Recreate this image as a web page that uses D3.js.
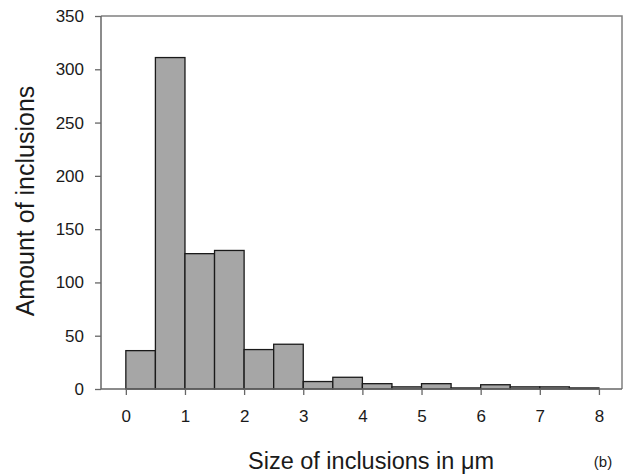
<!DOCTYPE html>
<html>
<head>
<meta charset="utf-8">
<script src="https://cdn.jsdelivr.net/npm/d3@7"></script>
<style>
  body { margin: 0; background: #fff; }
  svg { font-family: "Liberation Sans", Arial, sans-serif; }
</style>
</head>
<body>
<svg width="630" height="475"></svg>
<script>
// histogram bins (µm) and counts
var binStarts = [0, 0.5, 1, 1.5, 2, 2.5, 3, 3.5, 4, 4.5, 5, 5.5, 6, 6.5, 7, 7.5];
var binWidth = 0.5;
var counts = [36, 311, 127, 130, 37, 42, 7, 11, 5, 2, 5, 1, 4, 2, 2, 1];
var xTicks = [0, 1, 2, 3, 4, 5, 6, 7, 8];
var yTicks = [0, 50, 100, 150, 200, 250, 300, 350];

var svg = d3.select("svg");

var plotLeft = 101, plotRight = 622, plotTop = 16, plotBottom = 389;

var x = d3.scaleLinear()
    .domain([-0.42, 8.39])
    .range([plotLeft, plotRight]);

var y = d3.scaleLinear()
    .domain([0, 350])
    .range([plotBottom, plotTop]);

// frame (top + right)
svg.append("path")
    .attr("d", "M" + plotLeft + "," + plotTop + "H" + plotRight + "V" + plotBottom)
    .attr("fill", "none")
    .attr("stroke", "#808080")
    .attr("stroke-width", 1.5);

// bars
svg.append("g")
    .selectAll("rect")
    .data(counts)
    .enter().append("rect")
    .attr("x", function (d, i) { return x(binStarts[i]); })
    .attr("y", function (d) { return y(d); })
    .attr("width", function (d, i) { return x(binStarts[i] + binWidth) - x(binStarts[i]); })
    .attr("height", function (d) { return y(0) - y(d); })
    .attr("fill", "#a6a6a6")
    .attr("stroke", "#1a1a1a")
    .attr("stroke-width", 1.3);

// y axis
var yAxis = svg.append("g")
    .attr("transform", "translate(" + plotLeft + ",0)")
    .call(d3.axisLeft(y).tickValues(yTicks).tickSize(6).tickPadding(11));

// x axis
var xAxis = svg.append("g")
    .attr("transform", "translate(0," + plotBottom + ")")
    .call(d3.axisBottom(x).tickValues(xTicks).tickSize(6).tickPadding(15));

[yAxis, xAxis].forEach(function (a) {
    a.attr("font-family", null).attr("font-size", null);
    a.select(".domain").attr("stroke", "#666").attr("stroke-width", 1.5);
    a.selectAll(".tick line").attr("stroke", "#666").attr("stroke-width", 1.3);
    a.selectAll(".tick text")
        .attr("fill", "#1a1a1a")
        .style("font-size", "17px");
});
xAxis.select(".domain").attr("d", "M" + plotLeft + ",0H" + plotRight);
yAxis.select(".domain").attr("d", "M0," + plotBottom + "V" + plotTop);

// axis titles
svg.append("text")
    .attr("x", 371)
    .attr("y", 469)
    .attr("text-anchor", "middle")
    .attr("fill", "#1a1a1a")
    .style("font-size", "23.5px")
    .text("Size of inclusions in μm");

svg.append("text")
    .attr("transform", "translate(34,201) rotate(-90)")
    .attr("text-anchor", "middle")
    .attr("fill", "#1a1a1a")
    .style("font-size", "25px")
    .text("Amount of inclusions");

svg.append("text")
    .attr("x", 603)
    .attr("y", 467)
    .attr("text-anchor", "middle")
    .attr("fill", "#1a1a1a")
    .style("font-size", "15px")
    .text("(b)");
</script>
</body>
</html>
